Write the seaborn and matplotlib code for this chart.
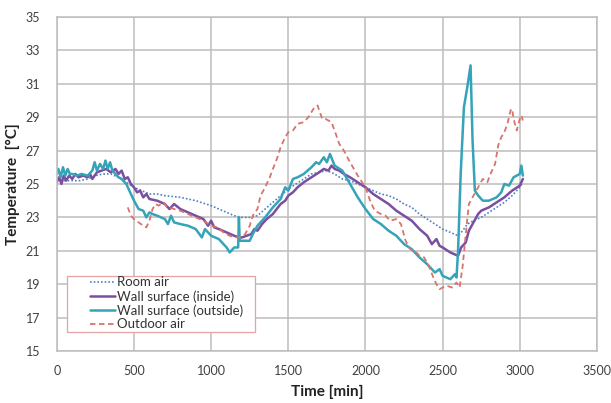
import matplotlib
matplotlib.use("Agg")
import matplotlib.pyplot as plt
from matplotlib.patches import Rectangle
import seaborn as sns
import pandas as pd

# Measured temperature series (time in minutes, temperature in °C)
room_t = [0, 50, 100, 150, 200, 250, 300, 350, 400, 450,
          500, 550, 600, 650, 700, 800, 900, 1000, 1100, 1150,
          1200, 1250, 1300, 1350, 1400, 1450, 1500, 1550, 1600, 1650,
          1700, 1750, 1800, 1850, 1900, 1950, 2000, 2050, 2100, 2150,
          2200, 2250, 2300, 2350, 2400, 2450, 2500, 2550, 2600, 2630,
          2660, 2700, 2750, 2800, 2850, 2900, 2950, 3000, 3020]
room_v = [25.3, 25.2, 25.2, 25.2, 25.3, 25.5, 25.6, 25.6, 25.4, 25.1,
          24.8, 24.6, 24.4, 24.4, 24.3, 24.2, 24.0, 23.7, 23.3, 23.1,
          23.0, 23.0, 23.1, 23.5, 23.9, 24.3, 24.7, 25.0, 25.3, 25.6,
          25.7, 25.8, 25.6, 25.3, 25.2, 25.0, 24.8, 24.6, 24.4, 24.3,
          24.1, 23.8, 23.6, 23.2, 22.9, 22.6, 22.3, 22.1, 21.9, 22.2,
          22.6, 22.8, 23.0, 23.3, 23.6, 23.9, 24.3, 24.8, 25.1]

wall_in_t = [0, 15, 30, 45, 60, 80, 100, 120, 140, 170,
             200, 215, 230, 260, 290, 320, 350, 380, 400, 420,
             440, 460, 480, 500, 520, 540, 560, 580, 600, 650,
             700, 730, 760, 800, 850, 900, 950, 980, 1000, 1020,
             1050, 1100, 1150, 1180, 1200, 1230, 1260, 1280, 1300, 1330,
             1360, 1400, 1450, 1480, 1500, 1530, 1560, 1600, 1650, 1700,
             1730, 1760, 1780, 1800, 1830, 1860, 1900, 1950, 2000, 2050,
             2100, 2150, 2200, 2250, 2300, 2350, 2400, 2430, 2460, 2480,
             2500, 2550, 2600, 2620, 2650, 2670, 2700, 2730, 2750, 2800,
             2850, 2900, 2950, 3000, 3020]
wall_in_v = [25.1, 25.4, 25.0, 25.5, 25.2, 25.5, 25.3, 25.6, 25.4, 25.5,
             25.4, 25.6, 25.3, 25.7, 25.8, 25.9, 25.7, 25.9, 25.6, 25.8,
             25.3, 25.4, 25.0, 24.8, 24.5, 24.6, 24.2, 24.4, 24.1, 24.0,
             23.8, 23.5, 23.8, 23.5, 23.3, 23.1, 22.9, 22.5, 22.8, 22.4,
             22.3, 22.1, 21.9, 21.8, 21.8, 21.9, 22.0, 22.3, 22.2, 22.6,
             22.9, 23.2, 23.8, 24.0, 24.3, 24.5, 24.8, 25.1, 25.4, 25.7,
             25.9, 25.8, 26.1, 25.9, 25.8, 25.6, 25.4, 25.1, 24.8, 24.4,
             24.1, 23.8, 23.4, 23.1, 22.8, 22.3, 21.9, 21.4, 21.7, 21.3,
             21.2, 20.9, 20.7, 21.2, 21.5, 22.2, 22.7, 23.2, 23.4, 23.6,
             23.9, 24.2, 24.6, 24.9, 25.3]

wall_out_t = [0, 10, 25, 40, 55, 70, 85, 100, 130, 160,
              200, 230, 245, 260, 280, 300, 315, 330, 345, 360,
              380, 400, 420, 450, 480, 500, 530, 560, 580, 600,
              620, 650, 700, 720, 740, 760, 800, 850, 900, 940,
              960, 1000, 1050, 1080, 1100, 1120, 1150, 1175, 1180, 1185,
              1200, 1250, 1270, 1300, 1350, 1400, 1450, 1480, 1500, 1530,
              1560, 1600, 1650, 1680, 1700, 1730, 1750, 1770, 1800, 1850,
              1900, 1950, 2000, 2050, 2100, 2150, 2200, 2250, 2300, 2350,
              2400, 2450, 2480, 2500, 2550, 2580, 2590, 2600, 2617, 2638,
              2660, 2681, 2694, 2709, 2731, 2760, 2800, 2850, 2880, 2900,
              2930, 2960, 3000, 3010, 3020]
wall_out_v = [25.6, 25.9, 25.4, 26.0, 25.5, 25.9, 25.6, 25.6, 25.5, 25.6,
              25.5, 25.8, 26.3, 25.8, 26.2, 25.9, 26.4, 25.9, 26.3, 25.8,
              25.6, 25.4, 25.3, 25.0, 24.4, 24.0, 23.5, 23.4, 23.0, 23.3,
              23.2, 23.1, 22.9, 22.6, 23.1, 22.7, 22.6, 22.5, 22.3, 21.8,
              22.3, 21.9, 21.7, 21.4, 21.2, 20.9, 21.2, 21.2, 23.0, 21.6,
              21.6, 21.6, 22.0, 22.5, 23.0, 23.6, 24.1, 24.8, 24.6, 25.3,
              25.4, 25.6, 26.0, 26.3, 26.2, 26.6, 26.3, 26.8, 26.1, 25.8,
              25.0, 24.2, 23.5, 22.9, 22.6, 22.2, 21.9, 21.4, 21.1, 20.6,
              20.2, 19.7, 19.9, 19.5, 19.3, 19.6, 19.4, 21.0, 25.6, 29.6,
              30.8, 32.1, 27.6, 24.6, 24.3, 24.0, 24.0, 24.2, 24.5, 25.0,
              24.9, 25.4, 25.6, 26.1, 25.5]

outdoor_t = [460, 480, 500, 530, 560, 580, 600, 620, 640, 660,
             690, 720, 760, 800, 850, 900, 950, 1000, 1040, 1080,
             1120, 1150, 1180, 1200, 1220, 1250, 1270, 1300, 1320, 1350,
             1380, 1400, 1430, 1450, 1480, 1500, 1530, 1560, 1600, 1630,
             1650, 1670, 1690, 1700, 1720, 1740, 1760, 1780, 1800, 1830,
             1860, 1900, 1950, 2000, 2030, 2060, 2100, 2130, 2160, 2200,
             2230, 2260, 2290, 2320, 2350, 2380, 2410, 2440, 2460, 2480,
             2500, 2530, 2560, 2590, 2610, 2630, 2650, 2670, 2700, 2730,
             2760, 2790, 2810, 2840, 2860, 2880, 2900, 2920, 2940, 2950,
             2960, 2980, 3000, 3010, 3020]
outdoor_v = [23.6, 23.1, 22.9, 22.7, 22.5, 22.4, 22.8, 23.5, 23.8, 23.7,
             23.9, 23.6, 23.5, 23.4, 23.2, 23.0, 22.8, 22.5, 22.4, 22.1,
             21.9, 21.8, 21.8, 21.9, 22.0, 22.5, 23.1, 23.5, 24.3, 24.8,
             25.4, 25.9, 26.6, 27.2, 27.8, 28.1, 28.2, 28.6, 28.7, 29.0,
             29.3, 29.6, 29.7, 29.4, 28.9, 28.9, 28.8, 28.7, 28.2, 27.4,
             27.0, 26.3, 25.5, 24.8, 24.0, 23.4, 23.2, 23.1, 22.8, 22.9,
             22.6, 21.6, 21.1, 21.0, 20.7, 20.6, 20.1, 19.4, 19.0, 18.7,
             18.8, 18.9, 18.8, 19.1, 18.8, 20.1, 22.0, 23.8, 24.3, 24.8,
             25.3, 25.1, 25.6, 26.2, 27.3, 27.8, 28.1, 28.6, 29.4, 29.5,
             28.9, 28.2, 28.9, 29.1, 28.8]

series_names = ["Room air", "Wall surface (inside)", "Wall surface (outside)", "Outdoor air"]

frames = []
for name, t, v in zip(series_names,
                      [room_t, wall_in_t, wall_out_t, outdoor_t],
                      [room_v, wall_in_v, wall_out_v, outdoor_v]):
    frames.append(pd.DataFrame({"Time": t, "Temp": v, "Series": name}))
df = pd.concat(frames, ignore_index=True)

sns.set_theme(style="whitegrid")
plt.rcParams["font.family"] = ["Lato", "DejaVu Sans"]

palette = {
    "Room air": "#4f7fc4",
    "Wall surface (inside)": "#7a4ea0",
    "Wall surface (outside)": "#35a3b8",
    "Outdoor air": "#d9736c",
}
styles = {
    "Room air": dict(ls=(0, (1, 1.2)), lw=1.2),
    "Wall surface (inside)": dict(ls="-", lw=1.8),
    "Wall surface (outside)": dict(ls="-", lw=1.8),
    "Outdoor air": dict(ls=(0, (3, 2)), lw=1.3),
}

fig = plt.figure(figsize=(6.11, 4.03), dpi=100)
ax = fig.add_axes([0.093, 0.129, 0.884, 0.829])

for name in series_names:
    sub = df[df["Series"] == name]
    sns.lineplot(data=sub, x="Time", y="Temp", ax=ax, color=palette[name],
                 estimator=None, sort=False, label=name,
                 linestyle=styles[name]["ls"], linewidth=styles[name]["lw"])

ax.set_xlim(0, 3500)
ax.set_ylim(15, 35)
ax.set_xticks(range(0, 3501, 500))
ax.set_yticks(range(15, 36, 2))
ax.grid(True, color="#bdbdbd", linewidth=1.1)
for s in ax.spines.values():
    s.set_color("#bdbdbd")
    s.set_linewidth(1.1)
ax.tick_params(axis="both", labelsize=9, colors="#404040", length=0)
ax.tick_params(axis="y", pad=12)
ax.tick_params(axis="x", pad=10)
ax.set_xlabel("Time [min]", fontsize=11, fontweight="bold", color="#222222", labelpad=6)
ax.set_ylabel("Temperature  [°C]", fontsize=11, fontweight="bold", color="#222222", labelpad=4)

# Legend entries without a frame, boxed by a separate rectangle
leg = ax.legend(loc="lower left", bbox_to_anchor=(0.062, 0.062), fontsize=9.5,
                frameon=False, handlelength=1.9, handletextpad=0.1,
                borderpad=0.0, labelspacing=0.12, borderaxespad=0)
for txt in leg.get_texts():
    txt.set_color("#333333")
ax.add_patch(Rectangle((0.018, 0.057), 0.349, 0.169, transform=ax.transAxes,
                       facecolor="white", edgecolor="#e6a3a3", linewidth=0.9,
                       zorder=4))
leg.set_zorder(5)

fig.savefig("out.png", dpi=100)
